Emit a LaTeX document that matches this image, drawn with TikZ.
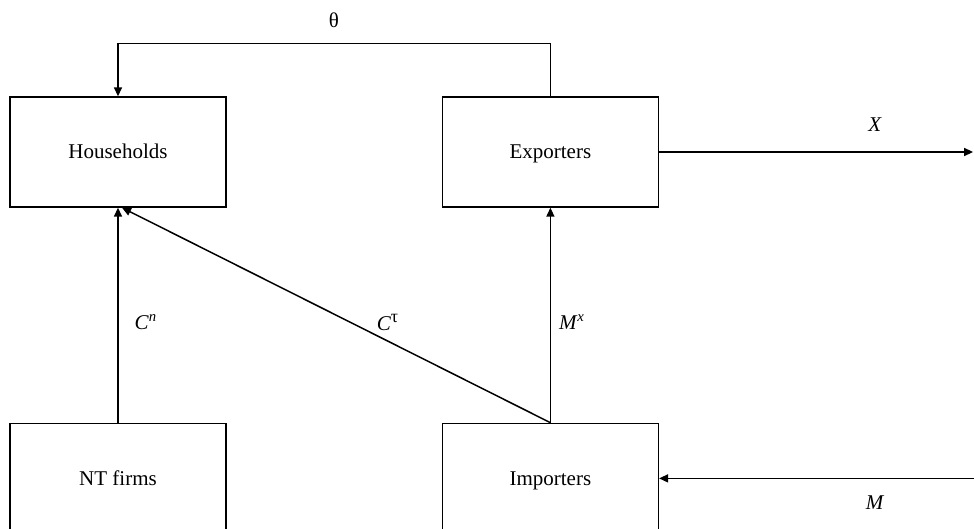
\documentclass[tikz,border=0pt]{standalone}
\usepackage{fontspec}
\setmainfont{Liberation Serif}
\usetikzlibrary{arrows.meta, positioning}

\begin{document}
\begin{tikzpicture}[
    x=0.5pt, y=-0.5pt,
    node distance=107.5pt,
    sector/.style={draw, line width=0.7pt, minimum width=108pt, minimum height=55pt, inner sep=0pt, text height=7pt, text depth=0pt, font=\fontsize{10.5}{12}\selectfont},
    flow/.style={line width=0.75pt, -{Triangle[length=4.5pt, width=4pt]}},
    lbl/.style={font=\fontsize{10.5}{12}\selectfont, inner sep=1pt},
]
    \useasboundingbox (0,0) rectangle (974,529);

    % Sectors
    \node[sector] (hh) at (118,152) {Households};
    \node[sector, right=of hh] (exp) {Exporters};
    \node[sector, below=of hh] (nt) {NT firms};
    \node[sector, below=of exp] (imp) {Importers};

    % Open ends of the trade flows
    \coordinate[right=157pt of exp.east] (xout);
    \coordinate[right=160pt of imp.east] (min);

    % Flows between sectors
    \draw[flow] (exp.north) -- ++(0,-53) -| (hh.north);
    \draw[flow] (nt.north) -- (hh.south);
    \draw[flow] (imp.north) -- ([xshift=2pt]hh.south);
    \draw[flow] (imp.north) -- (exp.south);
    \draw[flow] (exp.east) -- (xout);
    \draw[flow] (min) -- (imp.east);

    % Flow labels
    \node[lbl] (theta) at (334,20) {θ};
    \node[lbl] (cn) at (146,322) {\textit{C}\textsuperscript{\textit{n}}};
    \node[lbl] (ctau) at (388,322) {\textit{C}\textsuperscript{\fontsize{9}{10}\selectfont τ}};
    \node[lbl] (mx) at (572,322) {\textit{M}\textsuperscript{\textit{x}}};
    \node[lbl] (x) at (875,125) {\textit{X}};
    \node[lbl] (m) at (875,503) {\textit{M}};
\end{tikzpicture}
\end{document}
